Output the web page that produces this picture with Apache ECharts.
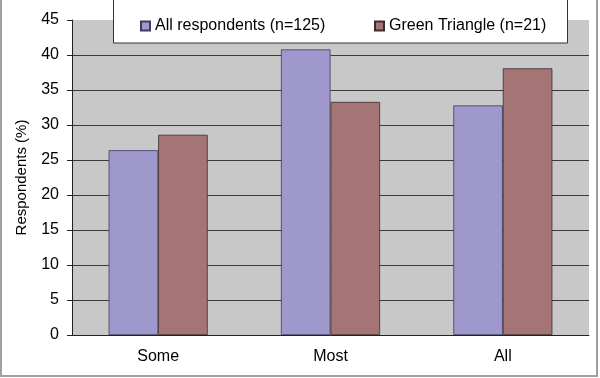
<!DOCTYPE html>
<html>
<head>
<meta charset="utf-8">
<script src="https://cdn.jsdelivr.net/npm/echarts@6/dist/echarts.min.js"></script>
<style>html,body{margin:0;padding:0;background:#fff;}#c{width:600px;height:378px;}</style>
</head>
<body>
<div id="c"></div>
<script>
var categories = ['Some', 'Most', 'All'];
var allRespondents = [26.4, 40.8, 32.8];
var greenTriangle = [28.6, 33.3, 38.1];
var seriesNames = ['All respondents (n=125)', 'Green Triangle (n=21)'];
var yTicks = {min: 0, max: 45, interval: 5};

var chart = echarts.init(document.getElementById('c'));
var font = 'Liberation Sans, Arial, sans-serif';
chart.setOption({
  animation: false,
  backgroundColor: '#fff',
  graphic: [
    {type: 'rect', shape: {x: 1, y: -5, width: 596, height: 381}, style: {fill: 'none', stroke: '#a0a0a0', lineWidth: 2}, z: 100},
    {type: 'rect', shape: {x: 113.5, y: -5, width: 454, height: 48}, style: {fill: '#fff', stroke: '#333', lineWidth: 1}, z: 10}
  ],
  legend: [
    {data: [seriesNames[0]], icon: 'rect', left: 140, top: 18, padding: 0, itemWidth: 9, itemHeight: 9, itemGap: 5, z: 20,
     textStyle: {fontFamily: font, fontSize: 16, color: '#000'}},
    {data: [seriesNames[1]], icon: 'rect', left: 374, top: 18, padding: 0, itemWidth: 9, itemHeight: 9, itemGap: 5, z: 20,
     textStyle: {fontFamily: font, fontSize: 16, color: '#000'}}
  ],
  grid: {left: 72, right: 11, top: 20, bottom: 43, show: true, backgroundColor: '#c8c8c8', borderWidth: 0},
  xAxis: {
    type: 'category', data: categories,
    axisLine: {lineStyle: {color: '#222', width: 1}},
    axisTick: {length: 5, lineStyle: {color: '#222'}},
    axisLabel: {fontFamily: font, fontSize: 16, color: '#000', margin: 14}
  },
  yAxis: {
    type: 'value', min: yTicks.min, max: yTicks.max, interval: yTicks.interval,
    name: 'Respondents (%)', nameLocation: 'middle', nameRotate: 90, nameGap: 43,
    nameTextStyle: {fontFamily: font, fontSize: 15, color: '#000'},
    axisLine: {show: true, lineStyle: {color: '#222', width: 1}},
    axisTick: {show: true, length: 5, lineStyle: {color: '#222'}},
    axisLabel: {fontFamily: font, fontSize: 16, color: '#000', margin: 13},
    splitLine: {show: true, showMaxLine: false, lineStyle: {color: '#3a3a3a', width: 1}}
  },
  series: [
    {name: seriesNames[0], type: 'bar', data: allRespondents, barGap: '0%', barCategoryGap: '42.5%',
     itemStyle: {color: '#9e98cc', borderColor: '#3c3c5c', borderWidth: 0.8}},
    {name: seriesNames[1], type: 'bar', data: greenTriangle, barGap: '0%', barCategoryGap: '42.5%',
     itemStyle: {color: '#a57575', borderColor: '#3c2c2c', borderWidth: 0.8}}
  ]
});
</script>
</body>
</html>
